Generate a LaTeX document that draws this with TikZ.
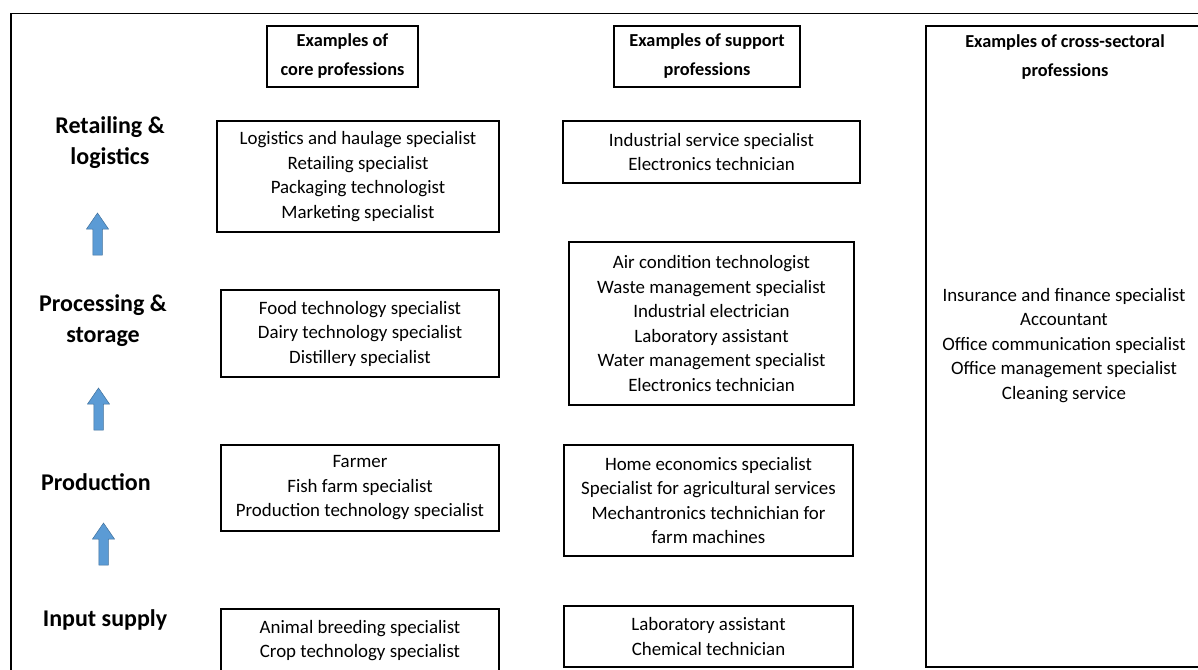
\documentclass[tikz,border=0pt]{standalone}
\usepackage{fontspec}
\setmainfont{Carlito}
\definecolor{arrowblue}{HTML}{5B9BD5}
\definecolor{arrowedge}{HTML}{41719C}

\begin{document}
\begin{tikzpicture}[x=1pt,y=-1pt,
  profbox/.style={draw,line width=1.1pt,align=center,inner sep=0pt,
    font=\fontsize{18.9}{24.5}\selectfont},
  headbox/.style={draw,line width=1.1pt,align=center,inner sep=0pt,
    minimum height=61pt,font=\bfseries\fontsize{18.3}{29}\selectfont},
  headtext/.style={align=center,inner sep=0pt,font=\bfseries\fontsize{18.3}{29}\selectfont},
  stage/.style={align=center,inner sep=0pt,font=\bfseries\fontsize{24}{31}\selectfont},
  flowarrow/.style={fill=arrowblue,draw=arrowedge,line width=0.5pt}]

  \useasboundingbox (0,0) rectangle (1198,669);
  \clip (0,0) rectangle (1198,669);

  % Outer frame (open to the right and below)
  \draw[line width=1.4pt] (11,690) -- (11,13.5) -- (1210,13.5);

  % Column headers
  \node[headbox,minimum width=151pt] (hcore) at (342.5,56.5) {Examples of\\core professions};
  \node[headbox,minimum width=186pt] (hsupp) at (707,56.5) {Examples of support\\professions};

  % Cross-sectoral column
  \draw[line width=1.1pt] (1210,26) -- (926,26) -- (926,667) -- (1210,667);
  \node[headtext] (hcross) at (1065,57.5) {Examples of cross-sectoral\\professions};
  \node[align=center,inner sep=0pt,font=\fontsize{18.9}{24.5}\selectfont] (cross) at (1064,345.5)
    {Insurance and finance specialist\\Accountant\\Office communication specialist\\Office management specialist\\Cleaning service};

  % Value chain stages
  \node[stage] (retail) at (110,143) {Retailing \&\\logistics};
  \node[stage] (process) at (103,321) {Processing \&\\storage};
  \node[stage] (product) at (96,482) {Production};
  \node[stage] (input) at (105,620) {Input supply};

  % Arrows between stages
  \foreach \ax/\ay in {97.5/213, 98.5/388, 103.5/523}
    \draw[flowarrow] ({\ax-4.75},{\ay+42}) -- ({\ax-4.75},{\ay+16}) -- ({\ax-11},{\ay+16})
      -- (\ax,\ay) -- ({\ax+11},{\ay+16}) -- ({\ax+4.75},{\ay+16}) -- ({\ax+4.75},{\ay+42}) -- cycle;

  % Core professions
  \node[profbox,minimum width=282pt,minimum height=111pt] (core1) at (358,176.5)
    {Logistics and haulage specialist\\Retailing specialist\\Packaging technologist\\Marketing specialist};
  \node[profbox,minimum width=278pt,minimum height=87pt] (core2) at (360,333.5)
    {Food technology specialist\\Dairy technology specialist\\Distillery specialist};
  \node[profbox,minimum width=278pt,minimum height=86pt] (core3) at (360,488)
    {Farmer\\Fish farm specialist\\Production technology specialist};
  \node[profbox,minimum width=278pt,minimum height=63pt] (core4) at (360,640.5)
    {Animal breeding specialist\\Crop technology specialist};

  % Support professions
  \node[profbox,minimum width=297pt,minimum height=62pt] (supp1) at (711.5,152)
    {Industrial service specialist\\Electronics technician};
  \node[profbox,minimum width=285pt,minimum height=163pt] (supp2) at (711.5,323.5)
    {Air condition technologist\\Waste management specialist\\Industrial electrician\\Laboratory assistant\\Water management specialist\\Electronics technician};
  \node[profbox,minimum width=289pt,minimum height=111pt] (supp3) at (708.5,500.5)
    {Home economics specialist\\Specialist for agricultural services\\Mechantronics technichian for\\farm machines};
  \node[profbox,minimum width=289pt,minimum height=61pt] (supp4) at (708.5,636.5)
    {Laboratory assistant\\Chemical technician};

\end{tikzpicture}
\end{document}
